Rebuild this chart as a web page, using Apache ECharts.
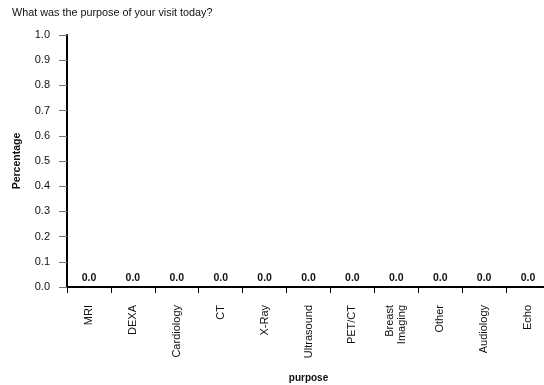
<!DOCTYPE html>
<html>
<head>
<meta charset="utf-8">
<script src="https://cdn.jsdelivr.net/npm/echarts@6/dist/echarts.min.js"></script>
<style>html,body{margin:0;padding:0;background:#fff}#c{width:544px;height:385px}</style>
</head>
<body>
<div id="c"></div>
<script>
var titleText = "What was the purpose of your visit today?";
var categories = ["MRI","DEXA","Cardiology","CT","X-Ray","Ultrasound","PET/CT","Breast\nImaging","Other","Audiology","Echo"];
var values = [0,0,0,0,0,0,0,0,0,0,0];
var yName = "Percentage";
var xName = "purpose";
var FONT = "Liberation Sans, Arial, sans-serif";

var chart = echarts.init(document.getElementById('c'), null, {renderer:'canvas'});
chart.setOption({
  animation:false,
  backgroundColor:'#fff',
  title:{text:titleText,left:7,top:3,textStyle:{fontSize:10.8,fontWeight:'normal',color:'#111',fontFamily:FONT}},
  grid:{left:67,top:35,width:483,height:252,containLabel:false,outerBoundsMode:'none'},
  xAxis:{
    type:'category',data:categories,boundaryGap:true,
    name:xName,nameLocation:'middle',nameGap:86,
    nameTextStyle:{fontSize:10,fontWeight:'bold',color:'#111',fontFamily:FONT},
    axisLine:{lineStyle:{color:'#000',width:2}},
    axisTick:{show:true,alignWithLabel:false,length:6,lineStyle:{color:'#000',width:1}},
    axisLabel:{rotate:90,margin:18,fontSize:11,color:'#111',fontFamily:FONT,lineHeight:12,interval:0}
  },
  yAxis:{
    type:'value',min:0,max:1,interval:0.1,
    name:yName,nameLocation:'middle',nameGap:44,
    nameTextStyle:{fontSize:10.5,fontWeight:'bold',color:'#111',fontFamily:FONT},
    axisLine:{show:true,lineStyle:{color:'#000',width:2}},
    axisTick:{show:true,length:8,lineStyle:{color:'#777',width:1}},
    axisLabel:{margin:17,fontSize:11,color:'#111',fontFamily:FONT,formatter:function(v){return v.toFixed(1);}},
    splitLine:{show:false}
  },
  series:[{
    type:'bar',data:values,barWidth:'70%',
    itemStyle:{color:'#4a7ebb'},
    label:{show:true,position:'top',distance:3,fontSize:10.5,fontWeight:'bold',color:'#111',fontFamily:FONT,
      formatter:function(p){return p.value.toFixed(1);}}
  }]
});
</script>
</body>
</html>
